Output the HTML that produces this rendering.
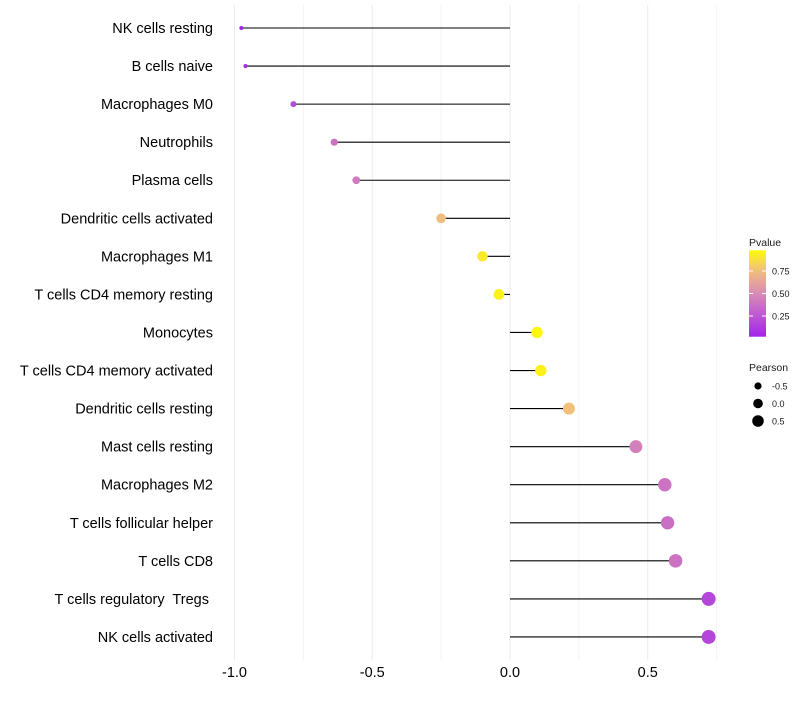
<!DOCTYPE html>
<html><head><meta charset="utf-8"><style>
body{margin:0;background:#fff;font-family:"Liberation Sans",sans-serif}
text{white-space:pre}
</style></head><body>
<svg id="c" width="800" height="700" xmlns="http://www.w3.org/2000/svg"></svg>
<script>
const categories=["NK cells resting","B cells naive","Macrophages M0","Neutrophils","Plasma cells","Dendritic cells activated","Macrophages M1","T cells CD4 memory resting","Monocytes","T cells CD4 memory activated","Dendritic cells resting","Mast cells resting","Macrophages M2","T cells follicular helper","T cells CD8","T cells regulatory  Tregs ","NK cells activated"];
const pearson=[-0.975,-0.96,-0.786,-0.638,-0.558,-0.25,-0.10,-0.04,0.098,0.112,0.214,0.457,0.562,0.572,0.601,0.721,0.721];
const pvalues=[0.03,0.05,0.2,0.38,0.42,0.74,0.92,0.95,0.97,0.95,0.76,0.45,0.38,0.37,0.38,0.18,0.18];
const xTicks=[-1.0,-0.5,0.0,0.5];
const xTickLabels=["-1.0","-0.5","0.0","0.5"];
const pTicks=[0.25,0.5,0.75];
const pTickLabels=["0.25","0.50","0.75"];
const sizeVals=[-0.5,0,0.5];
const sizeLabels=["-0.5","0.0","0.5"];

const NS="http://www.w3.org/2000/svg";
const svg=document.getElementById('c');
function mk(t,a,p){const e=document.createElementNS(NS,t);for(const k in a)e.setAttribute(k,a[k]);(p||svg).appendChild(e);return e;}
const x=v=>510+v*275.5;
const y=i=>28+i*38.06;
const r=v=>Math.sqrt(Math.max(2.5,29.9+26.5*v));
const stops=[[0,[160,32,240]],[0.5,[216,140,180]],[0.75,[240,190,128]],[1,[255,255,0]]];
function col(p){for(let i=0;i<stops.length-1;i++){const [a,ca]=stops[i],[b,cb]=stops[i+1];if(p<=b){const t=(p-a)/(b-a);return `rgb(${ca.map((c,j)=>Math.round(c+(cb[j]-c)*t)).join(',')})`;}}return 'rgb(255,255,0)';}
for(let v=-1;v<=0.75;v+=0.25){const g=mk('line',{x1:x(v),x2:x(v),y1:5,y2:660,stroke:Math.abs(v*2-Math.round(v*2))<1e-6?'#ebebeb':'#f3f3f3','stroke-width':1});
}
categories.forEach((c,i)=>{
 const h=mk('line',{x1:x(0),x2:x(pearson[i]),y1:y(i),y2:y(i),stroke:'#000','stroke-width':1.1});
 
 const d=mk('circle',{cx:x(pearson[i]),cy:y(i),r:r(pearson[i]),fill:col(pvalues[i])});
 
 const t=mk('text',{x:213,y:y(i)+5,'text-anchor':'end','font-size':14.5,fill:'#000'});t.textContent=c;
 
});
xTicks.forEach((v,i)=>{const t=mk('text',{x:x(v),y:677,'text-anchor':'middle','font-size':14.5,fill:'#000'});t.textContent=xTickLabels[i];
});
const defs=mk('defs',{});const lg=mk('linearGradient',{id:'g',x1:0,y1:1,x2:0,y2:0},defs);
for(let k=0;k<=10;k++){mk('stop',{offset:k/10,'stop-color':col(0.02+k/10*0.96)},lg);}
const lt=mk('text',{x:749,y:246,'font-size':10.5,fill:'#1a1a1a'});lt.textContent='Pvalue';

const py=p=>338.5-p*90;
const cb=mk('rect',{x:749,y:py(0.98),width:17,height:py(0.02)-py(0.98),fill:'url(#g)'});

pTicks.forEach((p,i)=>{mk('line',{x1:749,x2:753,y1:py(p),y2:py(p),stroke:'#fff'});mk('line',{x1:762,x2:766,y1:py(p),y2:py(p),stroke:'#fff'});
const t=mk('text',{x:772,y:py(p)+3.5,'font-size':9,fill:'#1a1a1a'});t.textContent=pTickLabels[i];
});
const st=mk('text',{x:749,y:371,'font-size':10.5,fill:'#1a1a1a'});st.textContent='Pearson';

sizeVals.forEach((v,i)=>{const cy=386+i*17.5;
const c=mk('circle',{cx:758,cy:cy,r:r(v)*0.88,fill:'#000'});
const t=mk('text',{x:772,y:cy+3.5,'font-size':9,fill:'#1a1a1a'});t.textContent=sizeLabels[i];
});
</script>
</body></html>
